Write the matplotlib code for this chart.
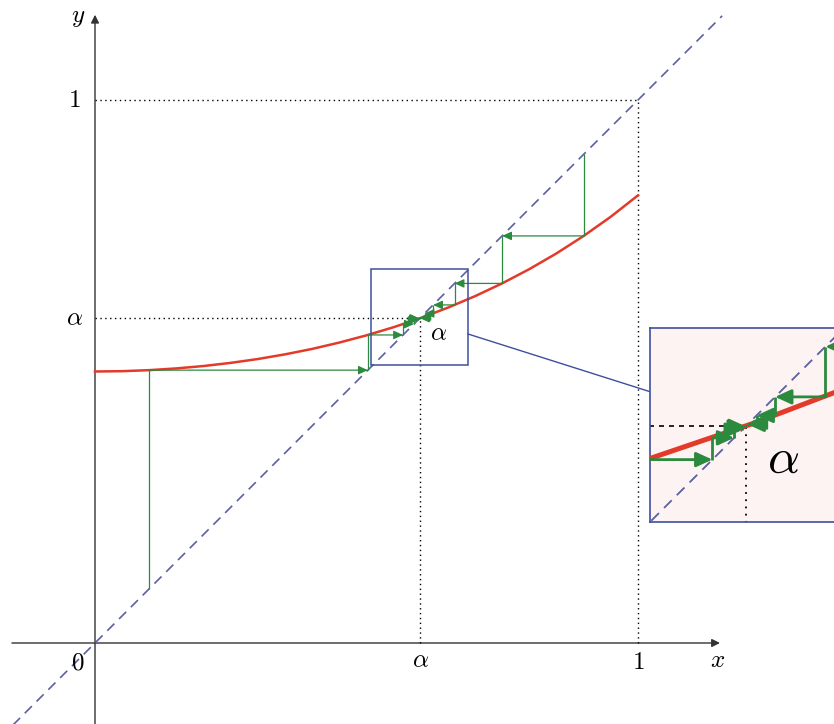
import matplotlib.pyplot as plt
from matplotlib.patches import FancyArrowPatch, Rectangle

plt.rcParams['mathtext.fontset'] = 'cm'

# fixed point of the map
ALPHA = 0.5978

# red curve y = f(x)
curve_x = [0.0, 0.05, 0.10, 0.15, 0.20, 0.25, 0.30, 0.35, 0.40, 0.45, 0.50,
           0.55, 0.60, 0.65, 0.70, 0.75, 0.80, 0.85, 0.90, 0.95, 1.0]
curve_y = [0.5000, 0.5006, 0.5025, 0.5057, 0.5101, 0.5159, 0.5230, 0.5316,
           0.5416, 0.5533, 0.5666, 0.5816, 0.5986, 0.6176, 0.6388, 0.6624,
           0.6886, 0.7176, 0.7497, 0.7851, 0.8244]

# cobweb iterates, from below and from above
left_iter = [0.1, 0.5025, 0.5673, 0.5873, 0.5941, 0.5965, 0.5974, 0.5977]
right_iter = [0.9, 0.7497, 0.6622, 0.6226, 0.6069, 0.6011, 0.5990, 0.5983]

# zoom rectangle in the main plot (x0, y0, w, h)
zoom_box = (0.508, 0.512, 0.179, 0.177)

RED = '#e33a2a'
GREEN = '#2b8a3e'
DIAG = '#5c60a0'
BOX = '#3d4f9e'
PX = 543.0  # pixels per unit


def cobweb(ax, pts, lw, ms, z=4):
    for a, b in zip(pts[:-1], pts[1:]):
        ax.plot([a, a], [a, b], color=GREEN, lw=lw, zorder=z,
                solid_capstyle='butt')
        ax.add_patch(FancyArrowPatch((a, b), (b, b),
                                     arrowstyle='-|>,head_length=0.7,head_width=0.32',
                                     mutation_scale=ms, lw=lw, color=GREEN,
                                     shrinkA=0, shrinkB=0, zorder=z))


fig = plt.figure(figsize=(8.34, 7.24), dpi=100)
ax = fig.add_axes([0, 0, 1, 1])
ax.set_xlim(-95 / PX, (834 - 95) / PX)
ax.set_ylim(-(724 - 643) / PX, 643 / PX)
ax.axis('off')

# axes with arrows
ax.add_patch(FancyArrowPatch((-0.153, 0), (1.151, 0), arrowstyle='-|>',
                             mutation_scale=12, lw=1.0, color='#333333',
                             shrinkA=0, shrinkB=0))
ax.add_patch(FancyArrowPatch((0, -0.2), (0, 1.157), arrowstyle='-|>',
                             mutation_scale=12, lw=1.0, color='#333333',
                             shrinkA=0, shrinkB=0))

# guide lines
dot = dict(color='black', lw=1.0, ls=(0, (1, 2.5)))
ax.plot([0, 1], [1, 1], **dot)
ax.plot([1, 1], [0, 1], **dot)
ax.plot([0, ALPHA], [ALPHA, ALPHA], **dot)
ax.plot([ALPHA, ALPHA], [0, ALPHA], **dot)

# diagonal y = x
ax.plot([-0.2, 1.155], [-0.2, 1.155], color=DIAG, lw=1.2, ls=(0, (6, 4)))

ax.plot(curve_x, curve_y, color=RED, lw=1.8, zorder=3)
cobweb(ax, left_iter, 0.9, 8)
cobweb(ax, right_iter, 0.9, 8)

# zoom box and connector
x0, y0, w, h = zoom_box
ax.add_patch(Rectangle((x0, y0), w, h, fill=False, ec=BOX, lw=1.1, zorder=5))
ax.plot([x0 + w, (651 - 95) / PX], [(643 - 334) / PX, (643 - 392) / PX],
        color=BOX, lw=1.0, zorder=5)

# labels
fs = 18
ax.text(-0.031, 1.153, r'$y$', fontsize=fs, ha='center', va='center')
ax.text(-0.039, 1.0, r'$1$', fontsize=fs, ha='center', va='center')
ax.text(-0.037, 0.599, r'$\alpha$', fontsize=fs, ha='center', va='center')
ax.text(-0.031, -0.035, r'$0$', fontsize=fs, ha='center', va='center')
ax.text(0.599, -0.031, r'$\alpha$', fontsize=fs, ha='center', va='center')
ax.text(1.0, -0.035, r'$1$', fontsize=fs, ha='center', va='center')
ax.text(1.147, -0.031, r'$x$', fontsize=fs, ha='center', va='center')
ax.text(0.632, 0.571, r'$\alpha$', fontsize=fs, ha='center', va='center')

# magnified inset (runs off the right edge)
S = 3200.0
axin = fig.add_axes([650 / 834, (724 - 522) / 724, 194 / 834, 194 / 724])
axin.set_xlim(ALPHA - 96 / S, ALPHA + 98 / S)
axin.set_ylim(ALPHA - 96 / S, ALPHA + 98 / S)
axin.set_facecolor('#fdf3f2')
axin.set_xticks([])
axin.set_yticks([])
for sp in axin.spines.values():
    sp.set_color(BOX)
    sp.set_linewidth(1.2)

axin.plot([ALPHA - 1, ALPHA + 1], [ALPHA - 1, ALPHA + 1], color=DIAG,
          lw=1.3, ls=(0, (6, 4)))
axin.plot([ALPHA - 1, ALPHA], [ALPHA, ALPHA], color='black', lw=1.2,
          ls=(0, (3, 3)))
axin.plot([ALPHA, ALPHA], [ALPHA - 1, ALPHA], color='black', lw=1.3,
          ls=(0, (1, 3)))
axin.plot(curve_x, curve_y, color=RED, lw=3.6, zorder=3)
cobweb(axin, left_iter, 2.0, 14)
cobweb(axin, right_iter, 2.0, 14)
axin.text(ALPHA + 0.0116, ALPHA - 0.0103, r'$\alpha$', fontsize=36,
          ha='center', va='center')

fig.savefig('out.png', dpi=100)
